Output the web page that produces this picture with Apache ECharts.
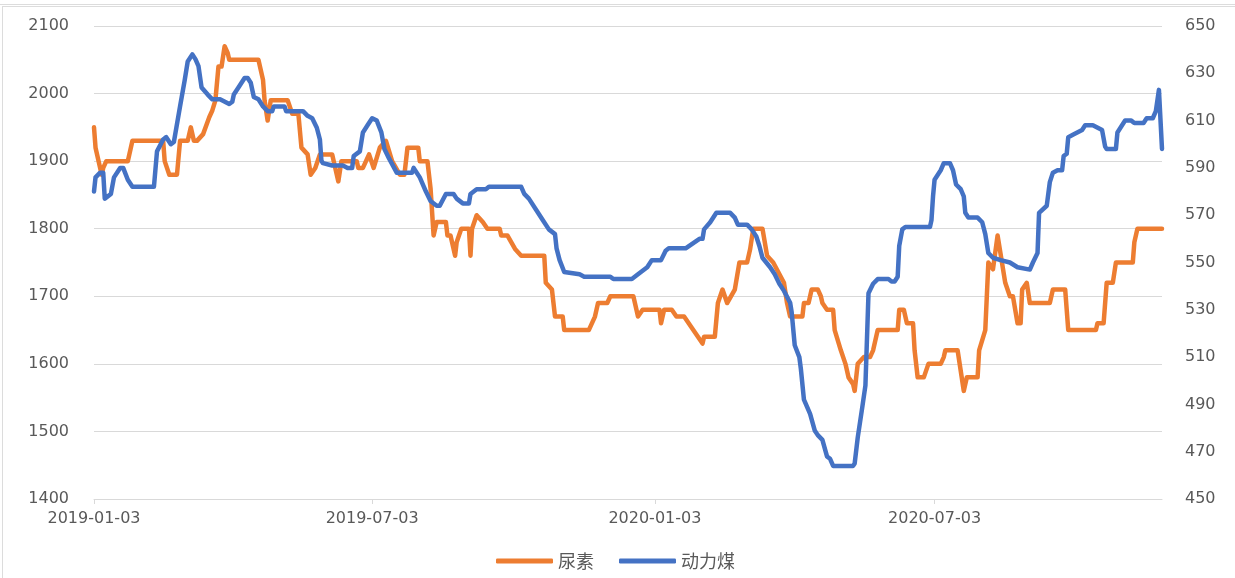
<!DOCTYPE html>
<html>
<head>
<meta charset="utf-8">
<script src="https://cdn.jsdelivr.net/npm/echarts@6/dist/echarts.min.js"></script>
<style>
  html, body { margin: 0; padding: 0; background: #fff; }
  #frame1 { position: absolute; left: 0; top: 4px; width: 1235px; height: 0; border-top: 1px solid #dcdcdc; }
  #frame2 { position: absolute; left: 2px; top: 6px; width: 1233px; height: 572px; border-top: 1px solid #dcdcdc; border-left: 1px solid #dcdcdc; }
  #chart { position: absolute; left: 0; top: 0; width: 1235px; height: 578px; }
</style>
</head>
<body>
<div id="frame1"></div>
<div id="frame2"></div>
<div id="chart"></div>
<script>
// ---- data ----
const seriesNames = ['尿素', '动力煤'];
const xTickLabels = ['2019-01-03', '2019-07-03', '2020-01-03', '2020-07-03'];
const xMin = '2019-01-03';
const xMax = '2020-11-28';

const ureaDates = [
'2019-01-03','2019-01-04','2019-01-06','2019-01-07','2019-01-08','2019-01-09','2019-01-11','2019-01-25','2019-01-28','2019-02-17',
'2019-02-18','2019-02-21','2019-02-26','2019-02-28','2019-03-05','2019-03-07','2019-03-09','2019-03-11','2019-03-15','2019-03-19',
'2019-03-21','2019-03-23','2019-03-25','2019-03-27','2019-03-29','2019-03-31','2019-04-01','2019-04-20','2019-04-23','2019-04-24',
'2019-04-26','2019-04-28','2019-05-09','2019-05-12','2019-05-16','2019-05-18','2019-05-22','2019-05-24','2019-05-27','2019-05-30',
'2019-06-07','2019-06-11','2019-06-13','2019-06-23','2019-06-24','2019-06-27','2019-07-01','2019-07-04','2019-07-08','2019-07-12',
'2019-07-16','2019-07-21','2019-07-24','2019-07-26','2019-08-02','2019-08-03','2019-08-08','2019-08-10','2019-08-12','2019-08-14',
'2019-08-20','2019-08-21','2019-08-23','2019-08-26','2019-08-27','2019-08-30','2019-09-04','2019-09-05','2019-09-06','2019-09-09',
'2019-09-13','2019-09-16','2019-09-24','2019-09-25','2019-09-29','2019-10-04','2019-10-08','2019-10-23','2019-10-24','2019-10-28',
'2019-10-30','2019-11-04','2019-11-05','2019-11-21','2019-11-25','2019-11-27','2019-12-03','2019-12-05','2019-12-20','2019-12-23',
'2019-12-26','2020-01-06','2020-01-07','2020-01-09','2020-01-14','2020-01-17','2020-01-22','2020-02-03','2020-02-04','2020-02-11',
'2020-02-13','2020-02-16','2020-02-19','2020-02-24','2020-02-27','2020-03-03','2020-03-05','2020-03-07','2020-03-13','2020-03-16',
'2020-03-20','2020-03-27','2020-03-29','2020-03-31','2020-04-08','2020-04-09','2020-04-12','2020-04-14','2020-04-18','2020-04-20',
'2020-04-21','2020-04-24','2020-04-28','2020-04-29','2020-04-30','2020-05-03','2020-05-06','2020-05-08','2020-05-11','2020-05-12',
'2020-05-14','2020-05-18','2020-05-22','2020-05-24','2020-05-25','2020-05-27','2020-06-09','2020-06-10','2020-06-13','2020-06-15',
'2020-06-19','2020-06-20','2020-06-22','2020-06-26','2020-06-29','2020-07-07','2020-07-09','2020-07-10','2020-07-18','2020-07-22',
'2020-07-24','2020-07-31','2020-08-01','2020-08-05','2020-08-07','2020-08-10','2020-08-13','2020-08-18','2020-08-21','2020-08-23',
'2020-08-26','2020-08-28','2020-08-29','2020-09-01','2020-09-03','2020-09-16','2020-09-18','2020-09-26','2020-09-28','2020-10-16',
'2020-10-17','2020-10-21','2020-10-23','2020-10-27','2020-10-29','2020-11-09','2020-11-10','2020-11-12','2020-11-28'
];
const ureaValues = [
1950,1920,1900,1890,1880,1890,1900,1900,1930,1930,
1900,1880,1880,1930,1930,1950,1930,1930,1940,1965,
1975,1990,2040,2040,2070,2060,2050,2050,2020,1990,
1960,1990,1990,1970,1970,1920,1910,1880,1890,1910,
1910,1870,1900,1900,1890,1890,1910,1890,1920,1930,
1900,1880,1880,1920,1920,1900,1900,1860,1790,1810,
1810,1790,1790,1760,1780,1800,1800,1760,1800,1820,
1810,1800,1800,1790,1790,1770,1760,1760,1720,1710,
1670,1670,1650,1650,1670,1690,1690,1700,1700,1670,
1680,1680,1660,1680,1680,1670,1670,1630,1640,1640,
1690,1710,1690,1710,1750,1750,1770,1800,1800,1760,
1750,1720,1690,1670,1670,1690,1690,1710,1710,1700,
1690,1680,1680,1650,1650,1620,1600,1580,1570,1560,
1600,1610,1610,1620,1620,1650,1650,1680,1680,1660,
1660,1620,1580,1580,1600,1600,1610,1620,1620,1560,
1580,1580,1620,1650,1750,1740,1790,1720,1700,1700,
1660,1660,1710,1720,1690,1690,1710,1710,1650,1650,
1660,1660,1720,1720,1750,1750,1780,1800,1800
];

const coalDates = [
'2019-01-03','2019-01-04','2019-01-07','2019-01-09','2019-01-10','2019-01-11','2019-01-14','2019-01-16','2019-01-20','2019-01-22',
'2019-01-25','2019-01-28','2019-02-11','2019-02-13','2019-02-17','2019-02-19','2019-02-22','2019-02-24','2019-02-28','2019-03-03',
'2019-03-05','2019-03-08','2019-03-10','2019-03-12','2019-03-14','2019-03-18','2019-03-21','2019-03-26','2019-04-01','2019-04-03',
'2019-04-04','2019-04-07','2019-04-11','2019-04-13','2019-04-15','2019-04-17','2019-04-20','2019-04-23','2019-04-26','2019-04-29',
'2019-04-30','2019-05-07','2019-05-08','2019-05-19','2019-05-22','2019-05-25','2019-05-28','2019-05-30','2019-05-31','2019-06-01',
'2019-06-07','2019-06-14','2019-06-17','2019-06-20','2019-06-21','2019-06-25','2019-06-27','2019-06-30','2019-07-03','2019-07-06',
'2019-07-09','2019-07-11','2019-07-14','2019-07-19','2019-07-29','2019-07-30','2019-08-03','2019-08-07','2019-08-10','2019-08-14',
'2019-08-16','2019-08-20','2019-08-25','2019-08-27','2019-08-31','2019-09-04','2019-09-05','2019-09-09','2019-09-15','2019-09-17',
'2019-10-08','2019-10-10','2019-10-13','2019-10-18','2019-10-22','2019-10-26','2019-10-30','2019-10-31','2019-11-02','2019-11-05',
'2019-11-15','2019-11-18','2019-12-05','2019-12-07','2019-12-19','2019-12-23','2019-12-29','2020-01-01','2020-01-07','2020-01-10',
'2020-01-12','2020-01-23','2020-02-01','2020-02-03','2020-02-04','2020-02-08','2020-02-12','2020-02-21','2020-02-24','2020-02-26',
'2020-03-03','2020-03-06','2020-03-09','2020-03-11','2020-03-13','2020-03-18','2020-03-21','2020-03-24','2020-03-27','2020-03-31',
'2020-04-01','2020-04-03','2020-04-06','2020-04-07','2020-04-09','2020-04-13','2020-04-16','2020-04-18','2020-04-21','2020-04-24',
'2020-04-26','2020-04-28','2020-05-11','2020-05-12','2020-05-14','2020-05-17','2020-05-19','2020-05-21','2020-05-24','2020-05-27',
'2020-06-03','2020-06-05','2020-06-07','2020-06-09','2020-06-10','2020-06-12','2020-06-14','2020-06-30','2020-07-01','2020-07-02',
'2020-07-03','2020-07-07','2020-07-09','2020-07-13','2020-07-15','2020-07-17','2020-07-20','2020-07-22','2020-07-23','2020-07-25',
'2020-07-31','2020-08-03','2020-08-05','2020-08-07','2020-08-10','2020-08-15','2020-08-21','2020-08-26','2020-09-03','2020-09-05',
'2020-09-08','2020-09-09','2020-09-14','2020-09-16','2020-09-18','2020-09-21','2020-09-24','2020-09-25','2020-09-27','2020-09-28',
'2020-10-01','2020-10-07','2020-10-09','2020-10-14','2020-10-20','2020-10-22','2020-10-23','2020-10-29','2020-10-30','2020-11-02',
'2020-11-04','2020-11-08','2020-11-10','2020-11-16','2020-11-18','2020-11-22','2020-11-24','2020-11-26','2020-11-28'
];
const coalValues = [
580,586,588,588,577,577,579,586,590,590,
585,582,582,597,602,603,600,601,616,627,
635,638,636,633,624,621,619,619,617,618,
621,624,628,628,626,620,619,616,614,614,
616,616,614,614,612,611,607,602,593,592,
591,591,590,590,595,597,605,608,611,610,
605,598,594,588,588,590,586,580,576,574,
574,579,579,577,575,575,579,581,581,582,
582,579,577,572,568,564,562,556,551,546,
545,544,544,543,543,545,548,551,551,555,
556,556,560,560,564,567,571,571,569,566,
566,564,561,557,552,548,545,541,538,533,
529,515,510,505,492,486,479,477,475,468,
467,464,464,465,476,489,498,537,541,543,
543,542,542,544,557,564,565,565,568,578,
585,589,592,592,589,583,581,578,571,569,
569,567,562,554,552,551,550,548,547,550,
554,571,574,584,588,589,589,595,596,603,
604,606,608,608,606,599,598,598,605,608,
610,610,609,609,611,611,614,623,598
];

// ---- chart ----
const ureaData = ureaDates.map((d, i) => [d, ureaValues[i]]);
const coalData = coalDates.map((d, i) => [d, coalValues[i]]);
const tickTimes = xTickLabels.map(s => echarts.time.parse(s).getTime());

const labelColor = '#595959';
const gridColor = '#d9d9d9';
const axisFont = 'DejaVu Sans, sans-serif';

const chart = echarts.init(document.getElementById('chart'), null, { renderer: 'canvas' });
chart.setOption({
  animation: false,
  backgroundColor: 'transparent',
  grid: { left: 94, right: 73, top: 26, bottom: 79, containLabel: false },
  legend: {
    data: seriesNames,
    left: 491,
    top: 547,
    icon: 'roundRect',
    itemWidth: 57,
    itemHeight: 5,
    itemGap: 25,
    textStyle: { color: labelColor, fontSize: 18, fontFamily: 'Noto Sans CJK SC, sans-serif' }
  },
  xAxis: {
    type: 'time',
    min: xMin,
    max: xMax,
    splitLine: { show: false },
    axisLine: { show: true, lineStyle: { color: gridColor, width: 1 } },
    axisTick: { show: true, length: 5, lineStyle: { color: gridColor }, customValues: tickTimes },
    axisLabel: {
      customValues: tickTimes,
      color: labelColor,
      fontSize: 16,
      fontFamily: axisFont,
      margin: 12,
      formatter: '{yyyy}-{MM}-{dd}',
      hideOverlap: false
    }
  },
  yAxis: [
    {
      type: 'value',
      min: 1400, max: 2100, interval: 100,
      axisLine: { show: false },
      axisTick: { show: false },
      splitLine: { show: true, lineStyle: { color: gridColor, width: 1 } },
      axisLabel: { color: labelColor, fontSize: 16, fontFamily: axisFont, margin: 25, formatter: v => String(v) }
    },
    {
      type: 'value',
      min: 450, max: 650, interval: 20,
      position: 'right',
      axisLine: { show: false },
      axisTick: { show: false },
      splitLine: { show: false },
      axisLabel: { color: labelColor, fontSize: 16, fontFamily: axisFont, margin: 23, formatter: v => String(v) }
    }
  ],
  series: [
    {
      name: seriesNames[0],
      type: 'line',
      yAxisIndex: 0,
      data: ureaData,
      symbol: 'none',
      lineStyle: { color: '#ED7D31', width: 4.5, join: 'round', cap: 'round' },
      itemStyle: { color: '#ED7D31' },
      z: 2
    },
    {
      name: seriesNames[1],
      type: 'line',
      yAxisIndex: 1,
      data: coalData,
      symbol: 'none',
      lineStyle: { color: '#4472C4', width: 4.5, join: 'round', cap: 'round' },
      itemStyle: { color: '#4472C4' },
      z: 3
    }
  ]
});
</script>
</body>
</html>
